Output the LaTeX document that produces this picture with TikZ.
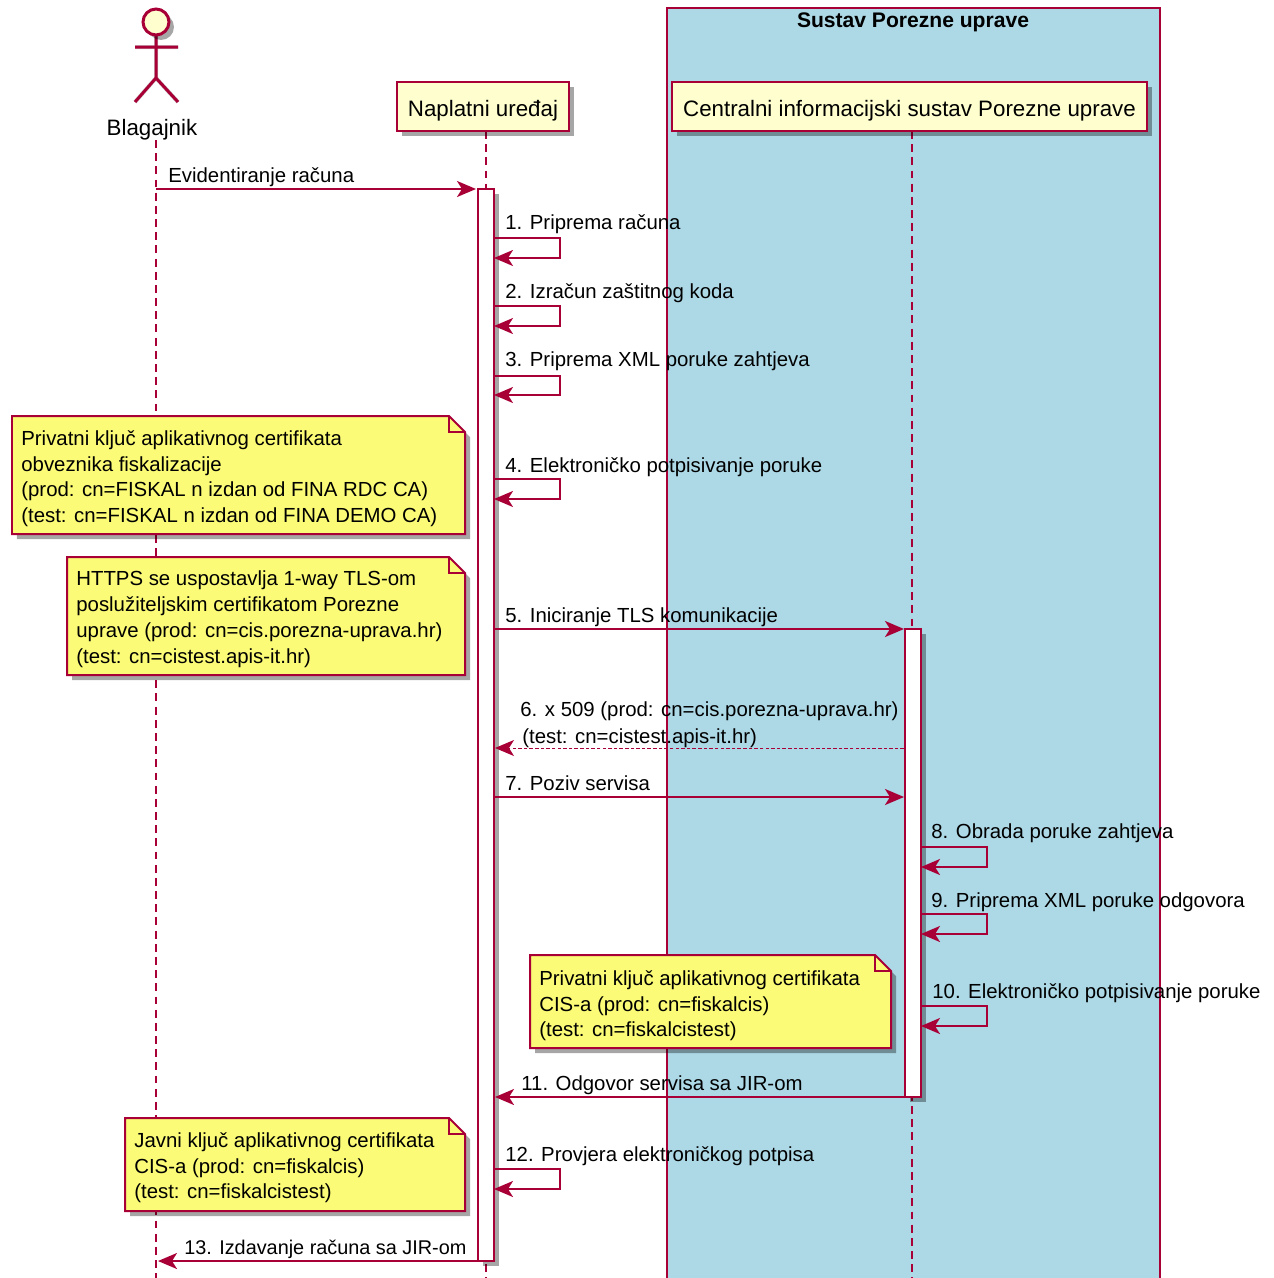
\documentclass[tikz,border=0pt]{standalone}
\usepackage{fontspec}
\setmainfont{Liberation Sans}
\usetikzlibrary{arrows.meta,shadows}
\definecolor{umlline}{HTML}{A80036}
\definecolor{umlfill}{HTML}{FEFECE}
\definecolor{notefill}{HTML}{FBFB77}
\definecolor{boxblue}{HTML}{ADD8E6}
\newcommand{\umlfont}{\fontsize{11.6pt}{14.7pt}\selectfont}
\newcommand{\headfont}{\fontsize{12.7pt}{15pt}\selectfont}

\begin{document}
\begin{tikzpicture}[x=0.02cm,y=-0.02cm,>={Stealth[length=0.38cm,width=0.32cm,inset=0.1cm]},font=\umlfont]
	\tikzstyle{shade}=[drop shadow={shadow xshift=0.1cm,shadow yshift=-0.1cm,fill=black,opacity=0.35}]
	\tikzstyle{party}=[draw=umlline,fill=umlfill,line width=0.05cm,minimum height=0.98cm,inner sep=0,font=\headfont,text height=0.38cm,text depth=0pt,shade]
	\tikzstyle{activebar}=[draw=umlline,fill=white,line width=0.04cm,minimum width=0.32cm,inner sep=0,shade]
	\tikzstyle{lifeline}=[draw=umlline,line width=0.025cm,dash pattern=on 4.5pt off 3pt]
	\tikzstyle{msg}=[->,draw=umlline,line width=0.04cm]
	\tikzstyle{msgtext}=[anchor=base west,inner sep=0]
	\tikzstyle{note}=[draw=umlline,fill=notefill,line width=0.04cm,shade]
	\tikzstyle{notefoldline}=[draw=umlline,line width=0.04cm]
	\tikzstyle{notetext}=[anchor=north west,inner sep=0,align=left]
	\tikzstyle{stick}=[draw=umlline,line width=0.06cm]
	\tikzstyle{stickshade}=[draw=black,opacity=0.2,line width=0.08cm,shift={(5,5)}]

	\useasboundingbox (0,0) rectangle (1274,1278);

	\fill[boxblue] (667,8) rectangle (1160,1278);
	\coordinate (boxbl) at (667,1278);
	\coordinate (boxtl) at (667,8);
	\coordinate (boxtr) at (1160,8);
	\coordinate (boxbr) at (1160,1278);
	\draw[umlline,line width=0.04cm] (boxbl) -- (boxtl) -- (boxtr) -- (boxbr);
	\node[inner sep=0,anchor=base,font=\fontsize{12pt}{15pt}\selectfont] (boxtitle) at (913,27) {\bfseries Sustav Porezne uprave};

	\coordinate (blagtop) at (156,140);
	\coordinate (blagend) at (156,1278);
	\coordinate (naptop) at (486,131);
	\coordinate (napend) at (486,1278);
	\coordinate (cistop) at (912,131);
	\coordinate (cisend) at (912,1278);
	\draw[lifeline] (blagtop) -- (blagend);
	\draw[lifeline] (naptop) -- (napend);
	\draw[lifeline] (cistop) -- (cisend);

	\coordinate (neck) at (156,35);
	\coordinate (hip) at (156,78);
	\coordinate (armL) at (135,47);
	\coordinate (armR) at (178,47);
	\coordinate (legL) at (135,102);
	\coordinate (legR) at (178,102);
	\draw[stickshade] (neck) -- (hip) (armL) -- (armR) (legL) -- (hip) -- (legR);
	\draw[stick] (neck) -- (hip) (armL) -- (armR) (legL) -- (hip) -- (legR);
	\node[circle,draw=umlline,fill=umlfill,line width=0.06cm,minimum size=0.52cm,inner sep=0,shade] (head) at (156,22) {};
	\node[inner sep=0,anchor=base,font=\headfont] (blag) at (152,135) {Blagajnik};

	\node[party,minimum width=3.44cm] (nap) at (483,106.5) {Naplatni uređaj};
	\node[party,minimum width=9.5cm] (cis) at (909.5,106.5) {Centralni informacijski sustav Porezne uprave};

	\path[note] (12,416) -- (449,416) -- (465,432) -- (465,534) -- (12,534) -- cycle;
	\draw[notefoldline] (449,416) -- (449,432) -- (465,432);
	\node[notetext] (note1) at (21,430) {Privatni ključ aplikativnog certifikata\\obveznika fiskalizacije\\(prod: cn=FISKAL n izdan od FINA RDC CA)\\(test: cn=FISKAL n izdan od FINA DEMO CA)};

	\path[note] (67,557) -- (449,557) -- (465,573) -- (465,675) -- (67,675) -- cycle;
	\draw[notefoldline] (449,557) -- (449,573) -- (465,573);
	\node[notetext] (note2) at (76,570.5) {HTTPS se uspostavlja 1-way TLS-om\\poslužiteljskim certifikatom Porezne\\uprave (prod: cn=cis.porezna-uprava.hr)\\(test: cn=cistest.apis-it.hr)};

	\path[note] (530,955) -- (875,955) -- (891,971) -- (891,1048) -- (530,1048) -- cycle;
	\draw[notefoldline] (875,955) -- (875,971) -- (891,971);
	\node[notetext] (note3) at (539,970) {Privatni ključ aplikativnog certifikata\\CIS-a (prod: cn=fiskalcis)\\(test: cn=fiskalcistest)};

	\path[note] (125,1118) -- (449,1118) -- (465,1134) -- (465,1211) -- (125,1211) -- cycle;
	\draw[notefoldline] (449,1118) -- (449,1134) -- (465,1134);
	\node[notetext] (note4) at (134,1132) {Javni ključ aplikativnog certifikata\\CIS-a (prod: cn=fiskalcis)\\(test: cn=fiskalcistest)};

	\node[activebar,minimum height=21.44cm] (barnap) at (486,725) {};
	\node[activebar,minimum height=9.36cm] (barcis) at (912.5,863) {};

	\coordinate (m0a) at (156,189);
	\coordinate (m0b) at (476,189);
	\draw[msg] (m0a) -- (m0b);
	\node[msgtext] (t0) at (168,182) {Evidentiranje računa};

	\coordinate (s1a) at (494,238);
	\coordinate (s1b) at (560,258);
	\draw[msg] (s1a) -| (s1b) -- (s1a |- s1b);
	\node[msgtext] (t1) at (505,229) {1. Priprema računa};

	\coordinate (s2a) at (494,306);
	\coordinate (s2b) at (560,326);
	\draw[msg] (s2a) -| (s2b) -- (s2a |- s2b);
	\node[msgtext] (t2) at (505,298) {2. Izračun zaštitnog koda};

	\coordinate (s3a) at (494,376);
	\coordinate (s3b) at (560,395);
	\draw[msg] (s3a) -| (s3b) -- (s3a |- s3b);
	\node[msgtext] (t3) at (505,366) {3. Priprema XML poruke zahtjeva};

	\coordinate (s4a) at (494,479);
	\coordinate (s4b) at (560,499);
	\draw[msg] (s4a) -| (s4b) -- (s4a |- s4b);
	\node[msgtext] (t4) at (505,472) {4. Elektroničko potpisivanje poruke};

	\coordinate (m5a) at (494,629);
	\coordinate (m5b) at (904,629);
	\draw[msg] (m5a) -- (m5b);
	\node[msgtext] (t5) at (505,622) {5. Iniciranje TLS komunikacije};

	\coordinate (m6a) at (904,748);
	\coordinate (m6b) at (495,748);
	\draw[msg,dash pattern=on 2pt off 1.2pt,line width=0.02cm] (m6a) -- (m6b);
	\node[msgtext] (t6a) at (520,716) {6. x 509 (prod: cn=cis.porezna-uprava.hr)};
	\node[msgtext] (t6b) at (522,743) {(test: cn=cistest.apis-it.hr)};

	\coordinate (m7a) at (494,797);
	\coordinate (m7b) at (904,797);
	\draw[msg] (m7a) -- (m7b);
	\node[msgtext] (t7) at (505,790) {7. Poziv servisa};

	\coordinate (s8a) at (921,847);
	\coordinate (s8b) at (987,867);
	\draw[msg] (s8a) -| (s8b) -- (s8a |- s8b);
	\node[msgtext] (t8) at (931,838) {8. Obrada poruke zahtjeva};

	\coordinate (s9a) at (921,914);
	\coordinate (s9b) at (987,934);
	\draw[msg] (s9a) -| (s9b) -- (s9a |- s9b);
	\node[msgtext] (t9) at (931,907) {9. Priprema XML poruke odgovora};

	\coordinate (s10a) at (921,1006);
	\coordinate (s10b) at (987,1026);
	\draw[msg] (s10a) -| (s10b) -- (s10a |- s10b);
	\node[msgtext] (t10) at (932,998) {10. Elektroničko potpisivanje poruke};

	\coordinate (m11a) at (905,1097);
	\coordinate (m11b) at (495,1097);
	\draw[msg] (m11a) -- (m11b);
	\node[msgtext] (t11) at (521,1090) {11. Odgovor servisa sa JIR-om};

	\coordinate (s12a) at (494,1169);
	\coordinate (s12b) at (560,1189);
	\draw[msg] (s12a) -| (s12b) -- (s12a |- s12b);
	\node[msgtext] (t12) at (505,1161) {12. Provjera elektroničkog potpisa};

	\coordinate (m13a) at (478,1261);
	\coordinate (m13b) at (158,1261);
	\draw[msg] (m13a) -- (m13b);
	\node[msgtext,font=\fontsize{11.3pt}{14.7pt}\selectfont] (t13) at (184,1254) {13. Izdavanje računa sa JIR-om};
\end{tikzpicture}
\end{document}
